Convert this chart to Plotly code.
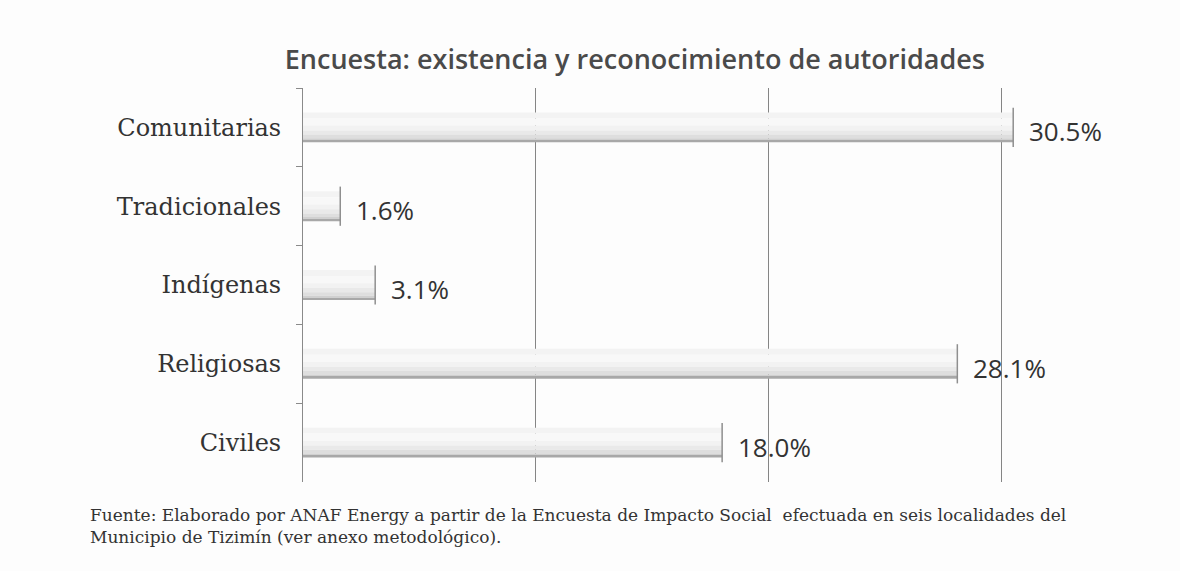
import plotly.graph_objects as go

# Survey results: existence and recognition of authorities (% of respondents)
categories = ["Comunitarias", "Tradicionales", "Indígenas", "Religiosas", "Civiles"]
values = [30.5, 1.6, 3.1, 28.1, 18.0]
value_labels = ["30.5%", "1.6%", "3.1%", "28.1%", "18.0%"]
grid_ticks = [10, 20, 30]

title_text = "Encuesta: existencia y reconocimiento de autoridades"
source_text = ("Fuente: Elaborado por ANAF Energy a partir de la Encuesta de Impacto Social  "
               "efectuada en seis localidades del<br>Municipio de Tizimín (ver anexo metodológico).")

# Vertical shading bands for each bar, top to bottom (light -> darker edge)
BAR_WIDTH = 0.38
band_colors = ["#f3f3f3", "#f8f8f8", "#f2f2f2", "#e9e9e9", "#dedede", "#d0d0d0", "#a8a8a8"]
band_share = [0.2, 0.24, 0.16, 0.14, 0.12, 0.08, 0.06]

fig = go.Figure()

start = -BAR_WIDTH / 2
for color, share in zip(band_colors, band_share):
    h = BAR_WIDTH * share
    fig.add_trace(go.Bar(
        x=values, y=categories, orientation="h",
        width=h, offset=start,
        marker=dict(color=color, line=dict(width=0)),
        hoverinfo="skip", showlegend=False,
    ))
    start += h

# Darker right-hand edge at the end of each bar
fig.add_trace(go.Scatter(
    x=values, y=categories, mode="markers",
    marker=dict(symbol="line-ns-open", size=28, color="#8f8f8f",
                line=dict(color="#8f8f8f", width=1.5)),
    hoverinfo="skip", showlegend=False,
))

# Value labels to the right of each bar
for cat, val, lab in zip(categories, values, value_labels):
    fig.add_annotation(
        x=val, y=cat, text=lab, showarrow=False,
        xanchor="left", yanchor="middle", xshift=14, yshift=-4,
        font=dict(family="Open Sans", size=26, color="#333333"),
    )

# Source note below the chart
plot_w = 1180 - 303 - 62
plot_h = 571 - 88 - 89
fig.add_annotation(
    x=(88 - 303) / plot_w, y=-(503 - 482) / plot_h, xref="paper", yref="paper",
    text=source_text, showarrow=False, align="left", xanchor="left", yanchor="top",
    font=dict(family="DejaVu Serif", size=17, color="#333333"),
)

fig.update_layout(
    width=1180, height=571,
    margin=dict(l=303, r=62, t=88, b=89),
    paper_bgcolor="#fdfdfd", plot_bgcolor="rgba(0,0,0,0)",
    barmode="overlay",
    title=dict(text=title_text, x=0.538, xanchor="center", y=0.895, yanchor="middle",
               font=dict(family="Open Sans", size=27, color="#4a4a4a", weight=600)),
    xaxis=dict(range=[0, 35], tickvals=grid_ticks, showticklabels=False,
               showgrid=True, gridcolor="#858585", gridwidth=1,
               zeroline=False, showline=False, ticks=""),
    yaxis=dict(categoryorder="array", categoryarray=categories, autorange="reversed",
               showline=True, linecolor="#8a8a8a", linewidth=1,
               ticks="outside", tickson="boundaries", ticklen=6, tickcolor="#8a8a8a",
               ticklabelstandoff=16, showgrid=False, zeroline=False,
               tickfont=dict(family="DejaVu Serif", size=24, color="#333333")),
)

fig.write_html("out.html")
